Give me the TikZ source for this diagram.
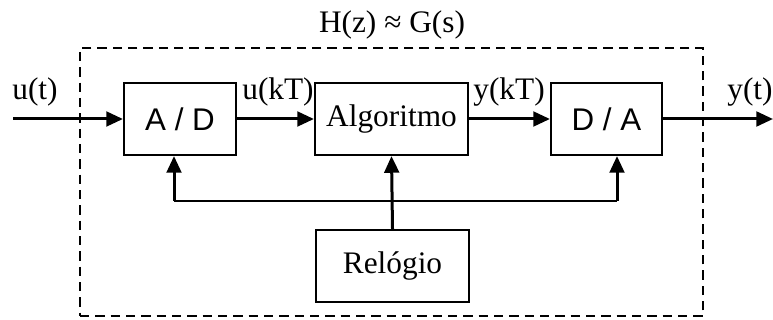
\documentclass[tikz,border=0pt]{standalone}
\usepackage{fontspec}
\setmainfont{Liberation Serif}
\newfontfamily\arialfont{Liberation Sans}
\usetikzlibrary{arrows.meta}

\tikzset{
  blk/.style={draw, line width=1.6pt, minimum height=54pt, inner sep=0pt, font=\fontsize{23.5}{28}\selectfont},
  sig/.style={line width=2.25pt, -{Triangle[length=12.5pt, width=11pt]}},
  bus/.style={line width=2.1pt},
  lbl/.style={anchor=base, inner sep=0pt, font=\fontsize{23.5}{28}\selectfont},
  dashbox/.style={draw, line width=1.5pt, dash pattern=on 7pt off 4.5pt, inner sep=0pt}
}

\begin{document}
\begin{tikzpicture}[x=0.75pt, y=-0.75pt]
\useasboundingbox (0,0) rectangle (773,320);

\node[dashbox, minimum width=467.25pt, minimum height=201pt] (sys) at (391.5,182) {};
\node[lbl] (title) at (392,33) {H(z) ≈ G(s)};

\node[blk, minimum width=84pt, font=\fontsize{23.5}{28}\arialfont] (ad) at (180,119) {A / D};
\node[blk, minimum width=114.75pt] (alg) at (391.5,119) {Algoritmo};
\node[blk, minimum width=83.25pt, font=\fontsize{23.5}{28}\arialfont] (da) at (606.5,119) {D / A};
\node[blk, minimum width=114.75pt] (rel) at (392.5,266) {Relógio};

\coordinate (in) at (13,119);
\coordinate (out) at (773,119);
\coordinate (busL) at (174,201);
\coordinate (busR) at (617,201);

\node[lbl] (lu) at (35,100) {u(t)};
\node[lbl] (luk) at (278,100) {u(kT)};
\node[lbl] (lyk) at (509,100) {y(kT)};
\node[lbl] (ly) at (750,100) {y(t)};

\draw[sig] (in) -- (ad);
\draw[sig] (ad) -- (alg);
\draw[sig] (alg) -- (da);
\draw[sig] (da) -- (out);

\draw[sig] (rel.north) -- (alg.south);
\draw[bus] (busL) -- (busR);
\draw[sig] (busL) -- (busL |- ad.south);
\draw[sig] (busR) -- (busR |- da.south);
\end{tikzpicture}
\end{document}
